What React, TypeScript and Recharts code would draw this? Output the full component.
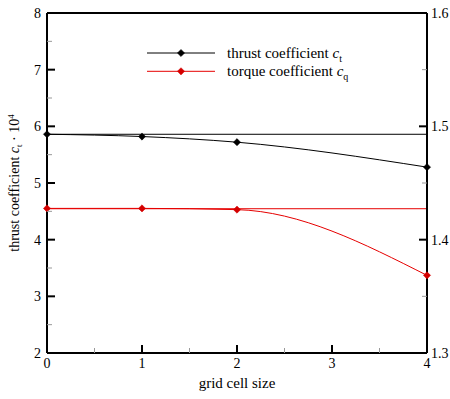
import React from 'react';
import { LineChart, Line, XAxis, YAxis, ReferenceLine, Legend, Label } from 'recharts';

const FONT = "'Liberation Serif', Tinos, 'Times New Roman', Times, 'DejaVu Serif', serif";

// grid cell size categories
const gridSize = [0, 1, 2, 4];
// thrust coefficient c_t * 10^4 (left axis)
const thrust = [5.86, 5.82, 5.72, 5.28];
// torque coefficient c_q (right axis)
const torque = [1.4276, 1.4276, 1.4265, 1.3685];
// extrapolated (zero cell size) values drawn as horizontal lines
const thrustRef = 5.86;
const torqueRef = 1.4273;

const seriesNames = ['thrust coefficient ', 'torque coefficient '];
const seriesSubs = ['t', 'q'];
const seriesColors = ['#000000', '#e60000'];
const markerColors = ['#000000', '#d40000'];

const xTicks = [0, 0.5, 1, 1.5, 2, 2.5, 3, 3.5, 4];
const leftTicks = [2, 2.5, 3, 3.5, 4, 4.5, 5, 5.5, 6, 6.5, 7, 7.5, 8];
const rightTicks = [1.3, 1.35, 1.4, 1.45, 1.5, 1.55, 1.6];

const data = gridSize.map((g, i) => ({ g, thrust: thrust[i], torque: torque[i] }));

const isInt = (v: number) => Math.abs(v - Math.round(v)) < 1e-6;
const isTenth = (v: number) => Math.abs(v * 10 - Math.round(v * 10)) < 1e-6;

const txtStyle = { fontFamily: FONT };

const LeftTick = (props: any) => {
  const { x, y, payload } = props;
  const v = payload.value;
  const major = isInt(v);
  return (
    <g>
      <line x1={x} x2={x + (major ? 8 : 5)} y1={y} y2={y} stroke={major ? '#000' : '#999'} strokeWidth={major ? 2 : 1} />
      {major && (
        <text x={x - 6} y={y} dy="0.35em" textAnchor="end" fontSize={14} style={txtStyle} fill="#000">
          {v}
        </text>
      )}
    </g>
  );
};

const RightTick = (props: any) => {
  const { x, y, payload } = props;
  const v = payload.value;
  const major = isTenth(v);
  return (
    <g>
      <line x1={x} x2={x - (major ? 8 : 5)} y1={y} y2={y} stroke={major ? '#000' : '#999'} strokeWidth={major ? 2 : 1} />
      {major && (
        <text x={x + 4} y={y} dy="0.35em" textAnchor="start" fontSize={14} style={txtStyle} fill="#000">
          {v.toFixed(1)}
        </text>
      )}
    </g>
  );
};

const BottomTick = (props: any) => {
  const { x, y, payload } = props;
  const v = payload.value;
  const major = isInt(v);
  return (
    <g>
      <line x1={x} x2={x} y1={y} y2={y - (major ? 8 : 5)} stroke={major ? '#000' : '#999'} strokeWidth={major ? 2 : 1} />
      {major && (
        <text x={x} y={y + 15} textAnchor="middle" fontSize={14} style={txtStyle} fill="#000">
          {v}
        </text>
      )}
    </g>
  );
};

const makeDot = (color: string) => (props: any) => {
  const { cx, cy, index } = props;
  if (cx == null || cy == null) return <g key={`d-${index}`} />;
  const r = 3.6;
  return (
    <polygon
      key={`d-${color}-${index}`}
      points={`${cx},${cy - r} ${cx + r},${cy} ${cx},${cy + r} ${cx - r},${cy}`}
      fill={color}
      stroke={color}
      strokeWidth={0.5}
    />
  );
};

const YLabel = (props: any) => {
  const vb = props.viewBox || { x: 0, y: 13, width: 47, height: 340 };
  const cx = 19;
  const cy = vb.y + vb.height / 2;
  return (
    <text
      x={cx}
      y={cy}
      transform={`rotate(-90 ${cx} ${cy})`}
      textAnchor="middle"
      fontSize={14}
      style={txtStyle}
      fill="#000"
    >
      <tspan>thrust coefficient </tspan>
      <tspan fontStyle="italic">c</tspan>
      <tspan fontSize={9} dy={3}>t</tspan>
      <tspan dy={-3}>{' \u00b7 10'}</tspan>
      <tspan fontSize={9} dy={-5}>4</tspan>
    </text>
  );
};

const LegendContent = (props: any) => {
  const payload = props.payload || [];
  return (
    <svg width={260} height={45} style={{ display: 'block' }}>
      {payload.map((p: any, i: number) => {
        const ly = 9 + i * 18.3;
        const idx = seriesNames.indexOf(p.value);
        const k = idx >= 0 ? idx : i;
        const c = seriesColors[k];
        const m = markerColors[k];
        const r = 3.6;
        return (
          <g key={`lg-${i}`}>
            <line x1={0} x2={68} y1={ly} y2={ly} stroke={c} strokeWidth={1} />
            <polygon points={`34,${ly - r} ${34 + r},${ly} 34,${ly + r} ${34 - r},${ly}`} fill={m} stroke={m} strokeWidth={0.5} />
            <text x={80} y={ly + 4.8} fontSize={15} style={txtStyle} fill="#000">
              <tspan>{seriesNames[k]}</tspan>
              <tspan fontStyle="italic">c</tspan>
              <tspan fontSize={10} dy={4}>{seriesSubs[k]}</tspan>
            </text>
          </g>
        );
      })}
    </svg>
  );
};

export default function App() {
  return (
    <div style={{ width: 450, height: 399, overflow: 'hidden' }}>
      <style>{'html,body{margin:0;padding:0;overflow:hidden;}'}</style>
      <LineChart width={450} height={399} data={data} margin={{ top: 13, right: 0, left: 0, bottom: 0 }}>
        <XAxis
          dataKey="g"
          type="number"
          domain={[0, 4]}
          ticks={xTicks}
          interval={0}
          height={46}
          tickSize={0}
          tickMargin={0}
          tickLine={false}
          axisLine={{ stroke: '#000', strokeWidth: 2 }}
          tick={<BottomTick />}
        >
          <Label value="grid cell size" position="insideBottom" offset={11} fill="#000" fontSize={15} style={txtStyle} />
        </XAxis>
        <YAxis
          yAxisId="left"
          orientation="left"
          type="number"
          domain={[2, 8]}
          ticks={leftTicks}
          interval={0}
          width={47}
          tickSize={0}
          tickMargin={0}
          tickLine={false}
          axisLine={{ stroke: '#000', strokeWidth: 2 }}
          tick={<LeftTick />}
          label={<YLabel />}
        />
        <YAxis
          yAxisId="right"
          orientation="right"
          type="number"
          domain={[1.3, 1.6]}
          ticks={rightTicks}
          interval={0}
          width={23}
          tickSize={0}
          tickMargin={0}
          tickLine={false}
          axisLine={{ stroke: '#000', strokeWidth: 2 }}
          tick={<RightTick />}
        />
        <ReferenceLine yAxisId="left" y={8} stroke="#000" strokeWidth={2} />
        <ReferenceLine yAxisId="left" y={thrustRef} stroke="#000" strokeWidth={1} />
        <ReferenceLine yAxisId="right" y={torqueRef} stroke={seriesColors[1]} strokeWidth={1} />
        <Line
          yAxisId="left"
          type="monotone"
          dataKey="thrust"
          name={seriesNames[0]}
          stroke={seriesColors[0]}
          strokeWidth={1}
          dot={makeDot(markerColors[0])}
          activeDot={false}
          isAnimationActive={false}
        />
        <Line
          yAxisId="right"
          type="monotone"
          dataKey="torque"
          name={seriesNames[1]}
          stroke={seriesColors[1]}
          strokeWidth={1}
          dot={makeDot(markerColors[1])}
          activeDot={false}
          isAnimationActive={false}
        />
        <Legend
          layout="vertical"
          align="center"
          verticalAlign="middle"
          content={<LegendContent />}
          wrapperStyle={{ left: 147, top: 44, width: 260, height: 45 }}
        />
      </LineChart>
    </div>
  );
}
